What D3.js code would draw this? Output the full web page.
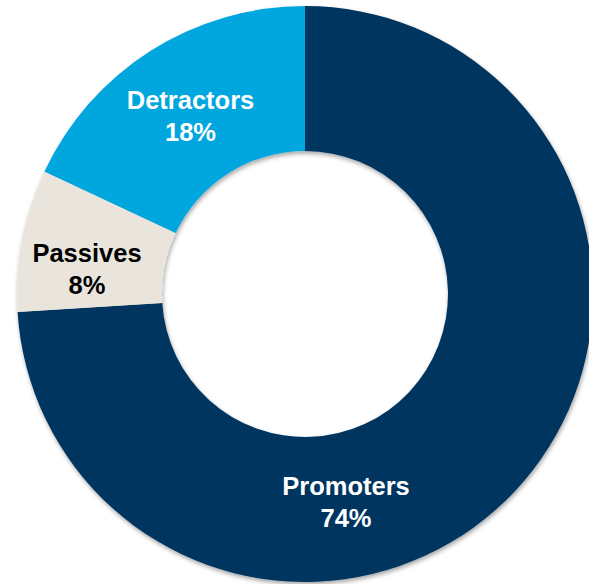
<!DOCTYPE html>
<html>
<head>
<meta charset="utf-8">
<script src="https://cdn.jsdelivr.net/npm/d3@7/dist/d3.min.js"></script>
<style>
  html, body { margin: 0; padding: 0; background: #ffffff; }
  svg { display: block; }
</style>
</head>
<body>
<svg id="chart" width="589" height="584"></svg>
<script>
// Net Promoter breakdown
const categories = ["Promoters", "Passives", "Detractors"];
const shares = [74, 8, 18];
const colors = ["#00365f", "#e9e5dc", "#00a6de"];
const textColors = ["#ffffff", "#000000", "#ffffff"];

// Label anchor points (x, first baseline) for each slice
const labelAnchors = [[346, 495], [87, 262], [190.5, 109]];

const width = 589, height = 584;
const cx = 305, cy = 294;
const outerR = 288, innerR = 143;

const svg = d3.select("#chart");

const defs = svg.append("defs");
const shadow = defs.append("filter")
  .attr("id", "ringShadow")
  .attr("x", "-10%").attr("y", "-10%")
  .attr("width", "120%").attr("height", "120%");
shadow.append("feDropShadow")
  .attr("dx", 1).attr("dy", 2.5)
  .attr("stdDeviation", 2)
  .attr("flood-color", "#000")
  .attr("flood-opacity", 0.35);

const data = categories.map((c, i) => ({ name: c, value: shares[i], color: colors[i], text: textColors[i], anchor: labelAnchors[i] }));

const pie = d3.pie().sort(null).value(d => d.value);
const arc = d3.arc().innerRadius(innerR).outerRadius(outerR);

const g = svg.append("g").attr("transform", `translate(${cx},${cy})`);

g.append("g")
  .attr("filter", "url(#ringShadow)")
  .selectAll("path")
  .data(pie(data))
  .join("path")
  .attr("d", arc)
  .attr("fill", d => d.data.color);

const labels = svg.append("g")
  .attr("font-family", "'Liberation Sans', Arial, sans-serif")
  .attr("font-weight", "bold")
  .attr("font-size", 25.5)
  .attr("text-anchor", "middle");

labels.selectAll("text.name")
  .data(data)
  .join("text")
  .attr("class", "name")
  .attr("x", d => d.anchor[0])
  .attr("y", d => d.anchor[1])
  .attr("fill", d => d.text)
  .text(d => d.name);

labels.selectAll("text.pct")
  .data(data)
  .join("text")
  .attr("class", "pct")
  .attr("x", d => d.anchor[0])
  .attr("y", d => d.anchor[1] + 32)
  .attr("fill", d => d.text)
  .text(d => d.value + "%");
</script>
</body>
</html>
